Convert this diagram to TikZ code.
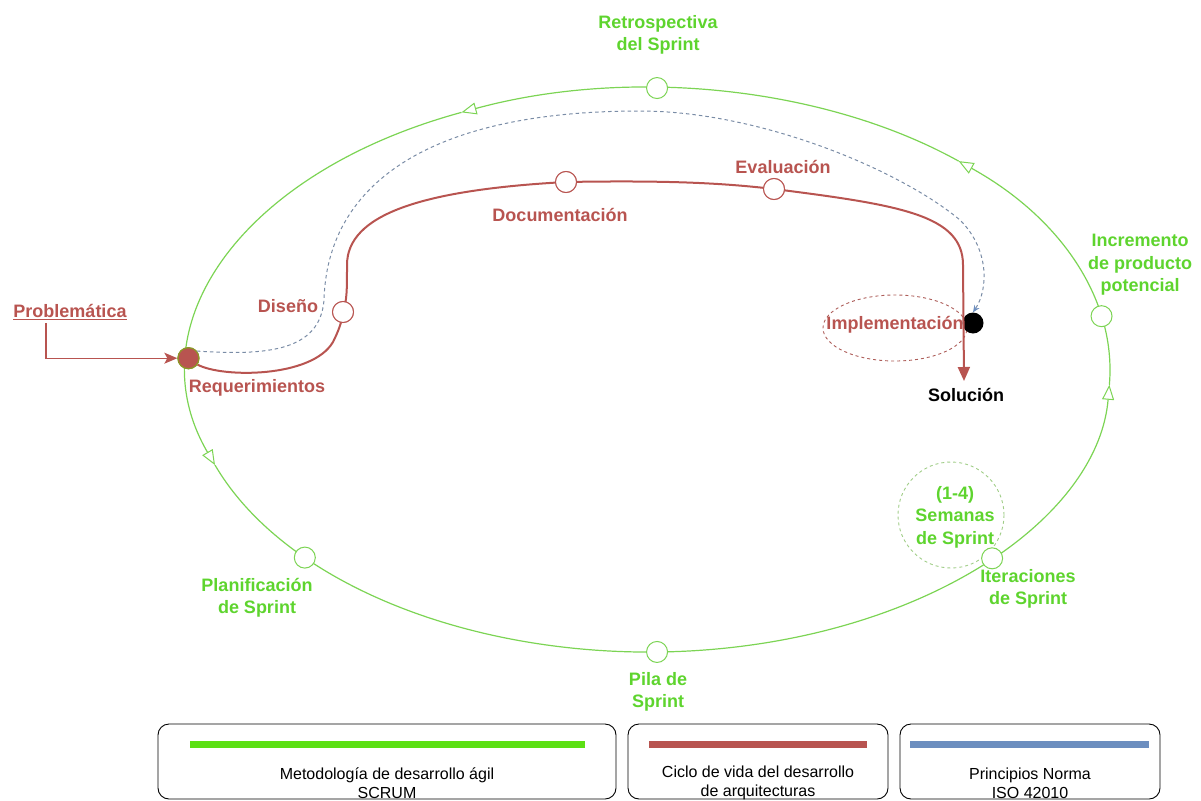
\documentclass[tikz,border=0pt]{standalone}
\usepackage{fontspec}
\setmainfont{Liberation Sans}
\usetikzlibrary{arrows.meta,calc,shapes.geometric}
\definecolor{scrumline}{RGB}{124,212,84}
\definecolor{scrumtext}{RGB}{94,212,46}
\definecolor{scrumbar}{RGB}{92,224,20}
\definecolor{cyclered}{RGB}{184,84,80}
\definecolor{isoblue}{RGB}{108,142,191}
\definecolor{dashblue}{RGB}{122,140,166}
\definecolor{zonegreen}{RGB}{160,205,135}
\definecolor{dotrim}{RGB}{140,150,40}

\begin{document}
\begin{tikzpicture}[x=1pt,y=-1pt,
  ring/.style={draw=scrumline, line width=1.2pt,
    -{Triangle[open,length=15pt,width=12pt,fill=white,line width=1pt]}},
  gmark/.style={circle, draw=scrumline, fill=white, line width=1pt, minimum size=21pt, inner sep=0pt},
  rmark/.style={circle, draw=cyclered, fill=white, line width=1pt, minimum size=21pt, inner sep=0pt},
  reddot/.style={circle, fill=cyclered, draw=dotrim, line width=1.2pt, minimum size=21pt, inner sep=0pt},
  glabel/.style={text=scrumtext, font=\fontsize{18}{22.5}\selectfont\bfseries, align=center},
  rlabel/.style={text=cyclered, font=\fontsize{18}{22}\selectfont\bfseries, align=center},
  cycle/.style={draw=cyclered, line width=2pt},
  legendbox/.style={draw=black, line width=0.9pt, rounded corners=11pt},
  legendtext/.style={font=\fontsize{16}{19}\selectfont, align=center, text=black},
  bar/.style={line width=7pt}
]
\useasboundingbox (0,0) rectangle (1201,800);

% centre of the SCRUM ring
\coordinate (C) at (649,370);

% SCRUM ring, four arcs each ending with an open arrow head
\draw[ring] (C) ++(3:461 and 282) arc[start angle=3, end angle=-47.8, x radius=461, y radius=282];
\draw[ring] (C) ++(-47.8:461 and 282) arc[start angle=-47.8, end angle=-114, x radius=461, y radius=282];
\draw[ring] (C) ++(-114:461 and 282) arc[start angle=-114, end angle=-199.7, x radius=461, y radius=282];
\draw[ring] (C) ++(-199.7:461 and 282) arc[start angle=-199.7, end angle=-357, x radius=461, y radius=282];

% sprint duration zone
\node[circle, draw=zonegreen, dashed, line width=0.9pt, minimum size=106pt] (weeks) at (951,515) {};

% implementation zone
\node[ellipse, draw=cyclered!80!gray, dashed, line width=0.9pt, minimum width=144pt, minimum height=66pt] (implzone) at (895,328) {};

% stations on the ring
\path (C) ++(-89:461 and 282) node[gmark] (retro) {};
\path (C) ++(-11:461 and 282) node[gmark] (incr) {};
\path (C) ++(41.9:461 and 282) node[gmark] (iter) {};
\path (C) ++(89:461 and 282) node[gmark] (pila) {};
\path (C) ++(138.3:461 and 282) node[gmark] (plan) {};

% start and end points of the architecture cycle
\path (C) ++(182.4:461 and 282) coordinate (reqpos);
\node[reddot] (req) at (reqpos) {};
\node[circle, fill=black, minimum size=21pt, inner sep=0pt] (impl) at (973,323) {};
\coordinate (solend) at (964,381);

% architecture life cycle path
\node[rmark] (dis) at (343,312) {};
\node[rmark] (doc) at (566,182) {};
\node[rmark] (eva) at (774,189) {};
\draw[cycle] (req.-35) .. controls (222,378) and (312,378) .. (333,342)
  .. controls (338,332) and (342,322) .. (dis.center);
\draw[cycle] (dis.center) .. controls (347,300) and (347,290) .. (347,265)
  .. controls (347,215) and (420,190) .. (doc.center);
\draw[cycle] (doc.center) .. controls (680,180) and (730,184) .. (eva.center);
\draw[cycle, -{Triangle[length=14pt,width=12pt]}] (eva.center) .. controls (900,205) and (963,215) .. (963,265) -- (solend);
% stations redrawn above the path
\node[rmark] at (dis) {};
\node[rmark] at (doc) {};
\node[rmark] at (eva) {};
\node[reddot] at (req) {};

% ISO 42010 principles, dashed guide
\draw[dashblue, line width=1pt, dash pattern=on 3.5pt off 3pt,
      -{Stealth[length=7pt,width=6pt,isoblue]}]
  (req.40) .. controls (270,356) and (320,350) .. (324,300)
  .. controls (327,190) and (420,111) .. (640,111)
  .. controls (760,111) and (900,170) .. (960,220)
  .. controls (990,250) and (988,290) .. (impl.north);

% problem statement entering the cycle
\node[rlabel] (prob) at (70,312) {\underline{Problemática}};
\draw[cyclered, line width=1.2pt, -{Stealth[length=13pt,width=11pt,inset=3pt]}]
  ([xshift=-24pt]prob.south) |- (req.west);

% labels of the SCRUM ring
\node[glabel] (retrolbl) at (658,35) {Retrospectiva\\del Sprint};
\node[glabel] (incrlbl) at (1140,265) {Incremento\\de producto\\potencial};
\node[glabel] (weekslbl) at (955,517) {(1-4)\\Semanas\\de Sprint};
\node[glabel] (iterlbl) at (1028,589) {Iteraciones\\de Sprint};
\node[glabel] (planlbl) at (257,598) {Planificación\\de Sprint};
\node[glabel] (pilalbl) at (658,692) {Pila de\\Sprint};

% labels of the architecture cycle
\node[rlabel] (reqlbl) at (257,388) {Requerimientos};
\node[rlabel] (dislbl) at (288,306) {Diseño};
\node[rlabel] (doclbl) at (560,215) {Documentación};
\node[rlabel] (evalbl) at (783,167) {Evaluación};
\node[rlabel] (impllbl) at (895,325) {Implementación};
\node[font=\fontsize{18}{22}\selectfont\bfseries] (sollbl) at (966,395) {Solución};

% legend
\draw[legendbox] (158,724) rectangle (616,799);
\draw[legendbox] (628,724) rectangle (888,799);
\draw[legendbox] (900,724) rectangle (1160,799);
\draw[bar, scrumbar] (190,744) -- (585,744);
\draw[bar, cyclered] (649,744) -- (867,744);
\draw[bar, isoblue] (910,744) -- (1149,744);
\node[legendtext] (leg1) at (387,783) {Metodología de desarrollo ágil\\SCRUM};
\node[legendtext] (leg2) at (758,783) {Ciclo de vida del desarrollo\\de arquitecturas};
\node[legendtext] (leg3) at (1030,783) {Principios Norma\\ISO 42010};
\end{tikzpicture}
\end{document}
